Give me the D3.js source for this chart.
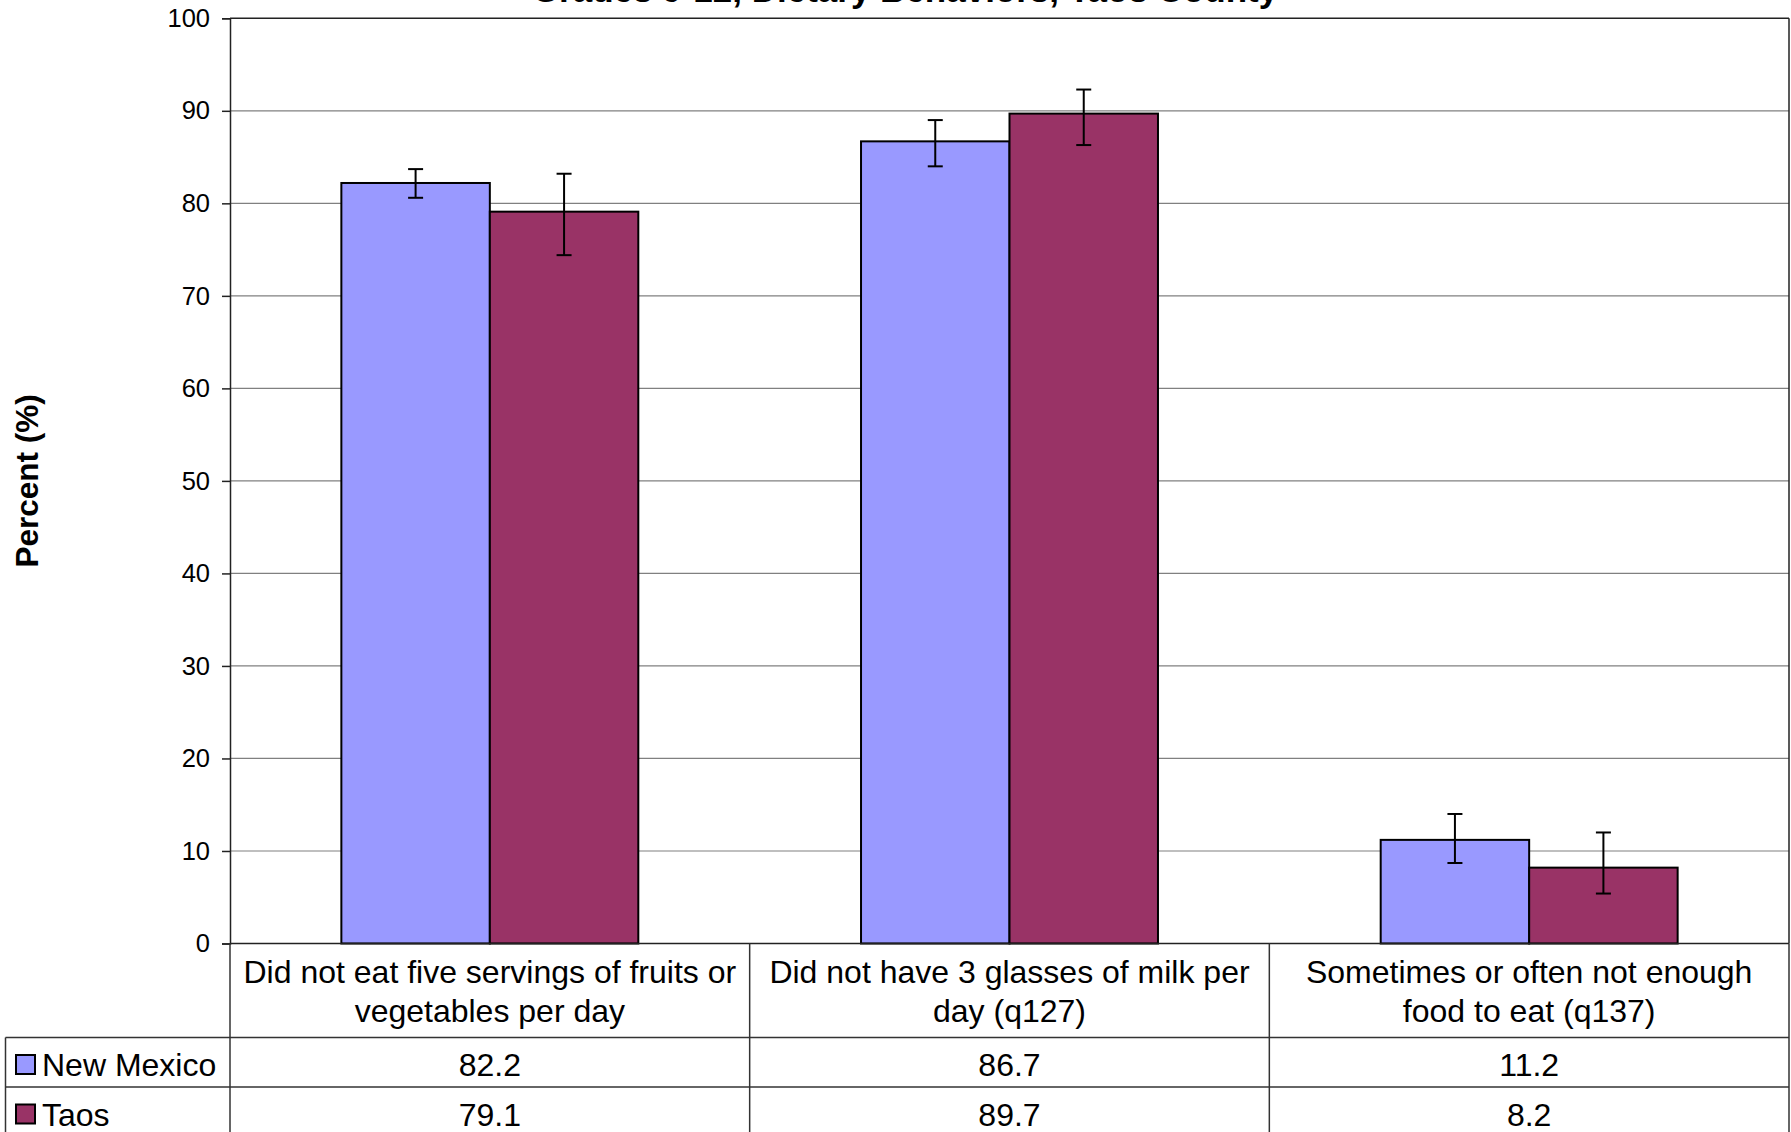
<!DOCTYPE html>
<html>
<head>
<meta charset="utf-8">
<script src="https://cdn.jsdelivr.net/npm/d3@7"></script>
<style>
  html, body { margin: 0; padding: 0; background: #fff; }
  svg { display: block; font-family: "Liberation Sans", Arial, sans-serif; }
</style>
</head>
<body>
<svg id="chart" width="1791" height="1132"></svg>
<script>
const categories = [
  ["Did not eat five servings of fruits or", "vegetables per day"],
  ["Did not have 3 glasses of milk per", "day (q127)"],
  ["Sometimes or often not enough", "food to eat (q137)"]
];
const seriesNames = ["New Mexico", "Taos"];
const newMexico = [82.2, 86.7, 11.2];
const taos = [79.1, 89.7, 8.2];
const newMexicoLow = [80.6, 84.0, 8.7];
const newMexicoHigh = [83.7, 89.0, 14.0];
const taosLow = [74.4, 86.3, 5.4];
const taosHigh = [83.2, 92.3, 12.0];
const yTicks = [0, 10, 20, 30, 40, 50, 60, 70, 80, 90, 100];
const colors = ["#9999FF", "#993366"];
const titleText = "Grades 9-12, Dietary Behaviors, Taos County";

(function () {
const svg = d3.select("#chart");
const pLeft = 230, pRight = 1789, pTop = 18.3, pBottom = 943.5;
const legendLeft = 5.5;

const y = d3.scaleLinear().domain([0, 100]).range([pBottom, pTop]);
const catIdx = categories.map((d, i) => i);
const x0 = d3.scaleBand().domain(catIdx).range([pLeft, pRight]).padding(0);
const bw = x0.bandwidth();
const gap = bw * 0.75 / 3.5;
const x1 = d3.scaleBand().domain([0, 1]).range([gap, bw - gap]).padding(0);

const values = [newMexico, taos];
const lows = [newMexicoLow, taosLow];
const highs = [newMexicoHigh, taosHigh];

// title (mostly cut off at the top, as in the reference)
svg.append("text")
  .attr("x", 905).attr("y", 1.5)
  .attr("text-anchor", "middle")
  .attr("font-weight", "bold")
  .attr("font-size", 35)
  .text(titleText);

// gridlines
svg.append("g").selectAll("line").data(yTicks.filter(t => t > 0 && t < 100)).join("line")
  .attr("x1", pLeft).attr("x2", pRight)
  .attr("y1", d => y(d)).attr("y2", d => y(d))
  .attr("stroke", "#808080").attr("stroke-width", 1.2);

// plot border top & right
svg.append("line").attr("x1", pLeft).attr("x2", pRight).attr("y1", pTop).attr("y2", pTop)
  .attr("stroke", "#222").attr("stroke-width", 1.5);
svg.append("line").attr("x1", pRight).attr("x2", pRight).attr("y1", pTop).attr("y2", pBottom)
  .attr("stroke", "#222").attr("stroke-width", 1.5);

// y axis
const yAxis = d3.axisLeft(y).tickValues(yTicks).tickSize(8).tickPadding(12).tickFormat(d3.format("d"));
const gy = svg.append("g").attr("transform", `translate(${pLeft},0)`).call(yAxis);
gy.select(".domain").attr("stroke", "#222").attr("stroke-width", 1.5);
gy.selectAll(".tick line").attr("stroke", "#222").attr("stroke-width", 1.5);
gy.selectAll(".tick text").attr("font-size", 25.5).attr("fill", "#000")
  .attr("font-family", "'Liberation Sans', Arial, sans-serif");

// y title
svg.append("text")
  .attr("transform", `translate(38,${(pTop + pBottom) / 2}) rotate(-90)`)
  .attr("text-anchor", "middle")
  .attr("font-weight", "bold").attr("font-size", 31.5)
  .text("Percent (%)");

// bars
const groups = svg.append("g").selectAll("g").data(catIdx).join("g")
  .attr("transform", d => `translate(${x0(d)},0)`);
[0, 1].forEach(s => {
  groups.append("rect")
    .attr("x", x1(s)).attr("width", x1.bandwidth())
    .attr("y", d => y(values[s][d]))
    .attr("height", d => y(0) - y(values[s][d]))
    .attr("fill", colors[s]).attr("stroke", "#000").attr("stroke-width", 2);
});

// error bars
[0, 1].forEach(s => {
  const cx = d => x1(s) + x1.bandwidth() / 2;
  groups.append("line")
    .attr("x1", cx).attr("x2", cx)
    .attr("y1", d => y(lows[s][d])).attr("y2", d => y(highs[s][d]))
    .attr("stroke", "#000").attr("stroke-width", 2);
  groups.append("line")
    .attr("x1", d => cx(d) - 7.5).attr("x2", d => cx(d) + 7.5)
    .attr("y1", d => y(lows[s][d])).attr("y2", d => y(lows[s][d]))
    .attr("stroke", "#000").attr("stroke-width", 2);
  groups.append("line")
    .attr("x1", d => cx(d) - 7.5).attr("x2", d => cx(d) + 7.5)
    .attr("y1", d => y(highs[s][d])).attr("y2", d => y(highs[s][d]))
    .attr("stroke", "#000").attr("stroke-width", 2);
});

// x axis baseline
svg.append("line").attr("x1", pLeft).attr("x2", pRight).attr("y1", pBottom).attr("y2", pBottom)
  .attr("stroke", "#222").attr("stroke-width", 1.5);

// data table
const row1 = 1037.5, row2 = 1087, tableBottom = 1140;
const tbl = svg.append("g").attr("stroke", "#333").attr("stroke-width", 1.5);
[pLeft, x0(1), x0(2), pRight].forEach(xv => {
  tbl.append("line").attr("x1", xv).attr("x2", xv).attr("y1", pBottom).attr("y2", tableBottom);
});
tbl.append("line").attr("x1", legendLeft).attr("x2", legendLeft).attr("y1", row1).attr("y2", tableBottom);
[row1, row2].forEach(yv => {
  tbl.append("line").attr("x1", legendLeft).attr("x2", pRight).attr("y1", yv).attr("y2", yv);
});

// category labels
const catText = svg.append("g").selectAll("text").data(catIdx).join("text")
  .attr("x", d => x0(d) + bw / 2)
  .attr("text-anchor", "middle").attr("font-size", 32);
catText.append("tspan").attr("x", d => x0(d) + bw / 2).attr("y", 983).text(d => categories[d][0]);
catText.append("tspan").attr("x", d => x0(d) + bw / 2).attr("y", 1022).text(d => categories[d][1]);

// values rows
const rowBase = [1076, 1125.5];
[0, 1].forEach(s => {
  svg.append("g").selectAll("text").data(catIdx).join("text")
    .attr("x", d => x0(d) + bw / 2).attr("y", rowBase[s])
    .attr("text-anchor", "middle").attr("font-size", 32)
    .text(d => values[s][d].toFixed(1));
  svg.append("rect")
    .attr("x", 16).attr("y", rowBase[s] - 21).attr("width", 19).attr("height", 19)
    .attr("fill", colors[s]).attr("stroke", "#000").attr("stroke-width", 2);
  svg.append("text")
    .attr("x", 42).attr("y", rowBase[s])
    .attr("font-size", 32)
    .text(seriesNames[s]);
});
})();
</script>
</body>
</html>
